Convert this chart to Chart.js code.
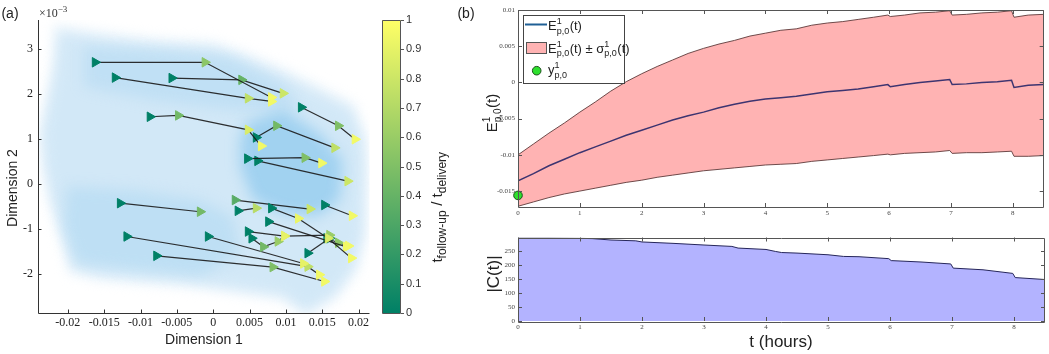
<!DOCTYPE html>
<html><head><meta charset="utf-8">
<script src="https://cdn.jsdelivr.net/npm/chart.js@4.4.1/dist/chart.umd.min.js"></script>
<style>
html,body{margin:0;padding:0;background:#fff;}
#wrap{position:relative;width:1049px;height:354px;overflow:hidden;background:#fff;}
canvas{position:absolute;}
</style></head><body>
<div id="wrap">
<canvas id="cA" width="376" height="354" style="left:0;top:0;width:376px;height:354px"></canvas>
<canvas id="cB" width="74" height="354" style="left:376px;top:0;width:74px;height:354px"></canvas>
<canvas id="cC" width="599" height="222" style="left:450px;top:0;width:599px;height:222px"></canvas>
<canvas id="cD" width="599" height="132" style="left:450px;top:222px;width:599px;height:132px"></canvas>
</div>
<script>
// ================= DATA =================
// Panel (a): trajectories (x in Dimension 1, y in units of 1e-3), colour = t_follow-up / t_delivery
const trajX = [
 [-0.01625,-0.00114,0.0080],
 [-0.0135,0.0048,0.0080],
 [-0.0057,0.0039,0.0096],
 [-0.0087,-0.0048,0.0048,0.0066],
 [0.0059,0.0087,0.0167],
 [0.0121,0.0172,0.0195],
 [0.0047,0.0126,0.0149],
 [0.0061,0.0185],
 [-0.0128,-0.0018],
 [0.0034,0.0059],
 [0.0080,0.0117,0.0158,0.0190],
 [0.0030,0.0133],
 [0.0153,0.0191],
 [0.0076,0.0183],
 [0.0048,0.0098,0.0160],
 [0.0053,0.0069,0.0089,0.0098],
 [0.0130,0.0160],
 [0.0156,0.0172,0.0186],
 [-0.0007,0.0124],
 [-0.0119,0.0130,0.0146],
 [-0.0078,0.0082,0.0153]
];
const trajY = [
 [2.71,2.71,1.93],
 [2.37,1.91,1.84],
 [2.36,2.32,2.02],
 [1.50,1.53,1.21,0.85],
 [1.04,1.30,0.81],
 [1.71,1.30,1.00],
 [0.57,0.59,0.47],
 [0.52,0.07],
 [-0.42,-0.61],
 [-0.59,-0.53],
 [-0.53,-0.76,-1.20,-1.64],
 [-0.35,-0.55],
 [-0.46,-0.70],
 [-0.83,-1.39],
 [-1.05,-1.15,-1.13],
 [-1.20,-1.39,-1.27,-1.15],
 [-1.53,-1.20],
 [-1.20,-1.30,-1.37],
 [-1.16,-1.76],
 [-1.16,-1.83,-2.01],
 [-1.59,-1.84,-2.16]
];
const trajFrac = [
 [0,0.55,0.95],
 [0,0.75,0.95],
 [0,0.4,0.8],
 [0,0.45,0.85,0.95],
 [0,0.45,0.75],
 [0,0.5,0.95],
 [0,0.5,0.95],
 [0,0.8],
 [0,0.45],
 [0,0.72],
 [0,0.92,0.85,0.95],
 [0.35,0.8],
 [0,0.95],
 [0,0.95],
 [0,0.9,0.6],
 [0,0.45,0.6,0.85],
 [0,0.1],
 [0,0.55,0.95],
 [0,0.9],
 [0,0.75,0.95],
 [0,0.5,0.95]
];
// background point cloud, outlined as regions of density
const cloudOuterX = [-0.0219,-0.0158,-0.0083,0,0.0053,0.0100,0.0148,0.0195,0.0211,0.0213,0.0211,0.0199,0.0170,0.0128,0.0094,0.0027,-0.0041,-0.0110,-0.0158,-0.0198,-0.0213,-0.0227,-0.0236,-0.0240,-0.0231,-0.0222];
const cloudOuterY = [3.55,3.40,3.25,3.18,2.88,2.55,2.17,1.78,1.05,0.39,-1.09,-1.92,-2.55,-2.95,-2.58,-2.42,-2.28,-2.20,-2.13,-1.98,-1.09,-0.35,0.39,1.13,1.87,2.70];
const cloudX = [-0.0211,-0.0156,-0.0082,0,0.0050,0.0096,0.0142,0.0188,0.0204,0.0206,0.0204,0.0192,0.0165,0.0128,0.0096,0.0027,-0.0041,-0.0110,-0.0156,-0.0192,-0.0206,-0.0220,-0.0229,-0.0233,-0.0224,-0.0215];
const cloudY = [3.36,3.21,3.06,2.99,2.69,2.39,2.02,1.65,0.99,0.39,-1.09,-1.83,-2.42,-2.79,-2.42,-2.27,-2.13,-2.05,-1.98,-1.83,-1.09,-0.35,0.39,1.13,1.87,2.61];
const cloudTopX = [-0.0178,-0.0064,0.0027,0.0096,0.0119,0.0027,-0.0087,-0.0178];
const cloudTopY = [3.06,2.99,2.84,2.24,1.65,1.65,1.87,2.17];
const cloudLowX = [-0.0201,-0.0110,-0.0018,0.0027,0.0037,-0.0018,-0.0110,-0.0188,-0.0206];
const cloudLowY = [-0.05,-0.13,-0.35,-0.72,-1.53,-2.05,-1.90,-1.76,-0.94];
const cloudDenseX = [0.0046,0.0096,0.0146,0.0178,0.0174,0.0142,0.0096,0.0055,0.0037,0.0037];
const cloudDenseY = [1.36,1.65,1.13,0.54,-0.35,-0.72,-0.64,-0.35,0.39,0.99];
const scatterXTicks = [-0.02,-0.015,-0.01,-0.005,0,0.005,0.01,0.015,0.02];
const scatterYTicks = [-2,-1,0,1,2,3];
const colorbarTicks = [0,0.1,0.2,0.3,0.4,0.5,0.6,0.7,0.8,0.9,1];

// Panel (b) top: expected value and +- sigma band
const tHours = [0,0.25,0.5,0.75,1,1.25,1.5,1.75,2,2.25,2.5,2.75,3,3.25,3.5,3.75,4,4.25,4.5,4.75,5,5.25,5.5,5.75,5.98,6.02,6.25,6.5,6.75,6.98,7.02,7.25,7.5,7.75,7.98,8.02,8.25,8.5];
const meanE = [-0.0136,-0.0126,-0.0115,-0.0106,-0.0097,-0.0089,-0.0081,-0.0073,-0.0066,-0.0059,-0.0052,-0.0046,-0.0041,-0.0035,-0.0030,-0.0026,-0.0023,-0.0021,-0.0019,-0.0016,-0.0013,-0.0011,-0.0009,-0.0006,-0.0003,-0.0006,-0.0003,0.0000,0.0002,0.0004,-0.0003,-0.0002,0.0000,0.0001,0.0003,-0.0007,-0.0004,-0.0003];
const upperE = [-0.0100,-0.0085,-0.0070,-0.0056,-0.0041,-0.0027,-0.0012,0.0001,0.0012,0.0022,0.0031,0.0040,0.0047,0.0053,0.0058,0.0064,0.0068,0.0072,0.0074,0.0079,0.0082,0.0084,0.0087,0.0090,0.0093,0.0091,0.0093,0.0096,0.0097,0.0099,0.0093,0.0094,0.0096,0.0097,0.0099,0.0090,0.0093,0.0094];
const lowerE = [-0.0171,-0.0165,-0.0159,-0.0154,-0.0150,-0.0146,-0.0142,-0.0138,-0.0135,-0.0131,-0.0128,-0.0125,-0.0122,-0.0120,-0.0118,-0.0116,-0.0114,-0.0113,-0.0112,-0.0109,-0.0107,-0.0105,-0.0103,-0.0101,-0.0099,-0.0100,-0.0098,-0.0097,-0.0096,-0.0094,-0.0098,-0.0097,-0.0097,-0.0096,-0.0095,-0.0102,-0.0102,-0.0101];
const obsTime = [0];
const obsValue = [-0.0156];
const eTicks = [-0.015,-0.01,-0.005,0,0.005,0.01];
const hourTicks = [0,1,2,3,4,5,6,7,8];

// Panel (b) bottom: |C(t)|
const cTime = [0,0.5,1,1.2,1.5,1.9,2,2.5,3,3.45,3.55,4,4.15,4.25,4.5,5,5.25,5.5,5.98,6.02,6.5,6.98,7.02,7.5,7.98,8.02,8.5];
const cCount = [298,298,297,296,291,288,284,279,273,268,262,257,250,246,244,238,232,231,224,217,212,205,190,184,171,156,149];
const cTicks = [0,50,100,150,200,250];

// ================= HELPERS =================
const SANS = "'Liberation Sans', Arial, sans-serif";
const SERIF = "'Liberation Serif', 'Times New Roman', serif";
const summer = f => `rgb(${Math.round(255*f)},${Math.round(127.5+127.5*f)},102)`;
const fmt = v => { const r = Math.round(v*1e6)/1e6; return r === 0 ? '0' : String(r); };
const fixTicks = arr => s => { s.ticks = arr.map(v => ({value: v})); };

function measureParts(ctx, parts, fam, base, small){
  let w = 0;
  for (const p of parts){
    if (p.t !== undefined){ ctx.font = `${base}px ${fam}`; w += ctx.measureText(p.t).width; }
    else { ctx.font = `${small}px ${fam}`;
      w += Math.max(p.sup ? ctx.measureText(p.sup).width : 0, p.sub ? ctx.measureText(p.sub).width : 0) + 0.5; }
  }
  return w;
}
function drawParts(ctx, x, y, parts, fam, base, small, center, color){
  const w = measureParts(ctx, parts, fam, base, small);
  let cx = center ? x - w/2 : x;
  ctx.fillStyle = color || '#222'; ctx.textAlign = 'left'; ctx.textBaseline = 'alphabetic';
  for (const p of parts){
    if (p.t !== undefined){ ctx.font = `${base}px ${fam}`; ctx.fillText(p.t, cx, y); cx += ctx.measureText(p.t).width; }
    else {
      ctx.font = `${small}px ${fam}`; let ww = 0;
      if (p.sup){ ctx.fillText(p.sup, cx, y - base*0.45); ww = Math.max(ww, ctx.measureText(p.sup).width); }
      if (p.sub){ ctx.fillText(p.sub, cx, y + base*0.28); ww = Math.max(ww, ctx.measureText(p.sub).width); }
      cx += ww + 0.5;
    }
  }
}
function drawPartsRot(ctx, bx, cy, parts, fam, base, small, color){
  ctx.save(); ctx.translate(bx, cy); ctx.rotate(-Math.PI/2);
  drawParts(ctx, 0, 0, parts, fam, base, small, true, color); ctx.restore();
}
function text(ctx, s, x, y, font, color, align, rot){
  ctx.save(); ctx.translate(x, y); if (rot) ctx.rotate(rot);
  ctx.font = font; ctx.fillStyle = color; ctx.textAlign = align || 'center'; ctx.textBaseline = 'middle';
  ctx.fillText(s, 0, 0); ctx.restore();
}
function boxAndTicks(chart, sides, len, color, box){
  const {ctx, chartArea: a, scales} = chart;
  ctx.save(); ctx.strokeStyle = color; ctx.lineWidth = 1;
  ctx.beginPath();
  if (box){ ctx.rect(Math.round(a.left)+0.5, Math.round(a.top)+0.5, Math.round(a.right-a.left)-1, Math.round(a.bottom-a.top)); }
  else {
    ctx.moveTo(Math.round(a.left)+0.5, a.top); ctx.lineTo(Math.round(a.left)+0.5, Math.round(a.bottom)+0.5);
    ctx.lineTo(a.right, Math.round(a.bottom)+0.5);
  }
  for (const t of scales.x.ticks){
    const px = Math.round(scales.x.getPixelForValue(t.value)) + 0.5;
    if (sides.includes('bottom')){ ctx.moveTo(px, a.bottom); ctx.lineTo(px, a.bottom - len); }
    if (sides.includes('top')){ ctx.moveTo(px, a.top); ctx.lineTo(px, a.top + len); }
  }
  for (const t of scales.y.ticks){
    const py = Math.round(scales.y.getPixelForValue(t.value)) + 0.5;
    if (sides.includes('left')){ ctx.moveTo(a.left, py); ctx.lineTo(a.left + len, py); }
    if (sides.includes('right')){ ctx.moveTo(a.right, py); ctx.lineTo(a.right - len, py); }
  }
  ctx.stroke(); ctx.restore();
}
const baseOpts = {responsive:false, animation:false, events:[], plugins:{legend:{display:false}, tooltip:{enabled:false}}};

// ================= PANEL (a) SCATTER =================
const cloudPolys = [
  [cloudOuterX, cloudOuterY, 'rgb(232,243,251)', 6],
  [cloudX, cloudY, 'rgb(210,232,247)', 6],
  [cloudTopX, cloudTopY, 'rgba(160,210,240,0.35)', 7],
  [cloudLowX, cloudLowY, 'rgba(160,210,240,0.40)', 7],
  [cloudDenseX, cloudDenseY, 'rgba(120,192,235,0.55)', 7]
];
const cloudPlugin = {
  id: 'cloud',
  beforeDatasetsDraw(chart){
    const {ctx, chartArea: a, scales: {x, y}} = chart;
    ctx.save(); ctx.beginPath(); ctx.rect(a.left, a.top, a.right-a.left, a.bottom-a.top); ctx.clip();
    for (const [xs, ys, col, blur] of cloudPolys){
      ctx.filter = `blur(${blur}px)`;
      ctx.beginPath();
      xs.forEach((v, i) => { const px = x.getPixelForValue(v), py = y.getPixelForValue(ys[i]); i ? ctx.lineTo(px, py) : ctx.moveTo(px, py); });
      ctx.closePath(); ctx.fillStyle = col; ctx.fill();
    }
    ctx.filter = 'none';
    ctx.restore();
  }
};
const decoA = {
  id: 'decoA',
  afterDraw(chart){
    const ctx = chart.ctx;
    boxAndTicks(chart, ['left','bottom'], 3.5, '#333', false);
    text(ctx, '(a)', 10, 14, `14px ${SANS}`, '#222');
    drawParts(ctx, 39, 17, [{t:'×10'},{sup:'−3'}], SERIF, 12, 9, false, '#333');
    text(ctx, 'Dimension 1', 204, 340, `14px ${SANS}`, '#222');
    text(ctx, 'Dimension 2', 13.5, 188, `14px ${SANS}`, '#222', 'center', -Math.PI/2);
  }
};
new Chart(document.getElementById('cA'), {
  type: 'scatter',
  data: { datasets: trajX.map((xs, i) => ({
    data: xs.map((v, j) => ({x: v, y: trajY[i][j]})),
    showLine: true, borderColor: 'rgba(25,25,25,0.9)', borderWidth: 1.2, tension: 0,
    pointStyle: 'triangle', pointRotation: 90, pointRadius: 5.5, pointHoverRadius: 5.5,
    pointBackgroundColor: trajFrac[i].map(summer), pointBorderColor: trajFrac[i].map(summer), pointBorderWidth: 1
  }))},
  options: Object.assign({}, baseOpts, {
    layout: {padding: {top: 20, right: 6, left: 0, bottom: 0}},
    scales: {
      x: {type:'linear', min:-0.0241, max:0.0215, afterBuildTicks: fixTicks(scatterXTicks), afterFit: s => { s.height = 41; },
          grid:{display:false, drawTicks:false}, border:{display:false},
          ticks:{font:{family:SERIF, size:12}, color:'#222', padding:3, maxRotation:0, autoSkip:false, callback: fmt}},
      y: {type:'linear', min:-2.86, max:3.65, afterBuildTicks: fixTicks(scatterYTicks), afterFit: s => { s.width = 38; },
          grid:{display:false, drawTicks:false}, border:{display:false},
          ticks:{font:{family:SERIF, size:12}, color:'#222', padding:5, autoSkip:false, callback: fmt}}
    }
  }),
  plugins: [cloudPlugin, decoA]
});

// ================= COLORBAR =================
const decoB = {
  id: 'decoB',
  afterDraw(chart){
    const {ctx, chartArea: a, scales: {y}} = chart;
    ctx.save(); ctx.strokeStyle = '#555'; ctx.lineWidth = 1; ctx.beginPath();
    ctx.rect(Math.round(a.left)+0.5, Math.round(a.top)+0.5, Math.round(a.right-a.left)-1, Math.round(a.bottom-a.top));
    for (const t of y.ticks){ const py = Math.round(y.getPixelForValue(t.value))+0.5; ctx.moveTo(a.right, py); ctx.lineTo(a.right+3, py); }
    ctx.stroke(); ctx.restore();
    drawPartsRot(ctx, 66, 207, [{t:'t'},{sub:'follow-up'},{t:' / t'},{sub:'delivery'}], SANS, 15, 12, '#222');
  }
};
new Chart(document.getElementById('cB'), {
  type: 'bar',
  data: { labels: ['cb'], datasets: [{
    data: [[0, 1]], barPercentage: 1, categoryPercentage: 1, borderWidth: 0,
    backgroundColor: c => { const a = c.chart.chartArea; if (!a) return summer(0.5);
      const g = c.chart.ctx.createLinearGradient(0, a.bottom, 0, a.top); g.addColorStop(0, summer(0)); g.addColorStop(1, summer(1)); return g; }
  }]},
  options: Object.assign({}, baseOpts, {
    layout: {padding: {top: 20, left: 6, right: 0, bottom: 41}},
    scales: {
      x: {display:false},
      y: {position:'right', min:0, max:1, afterBuildTicks: fixTicks(colorbarTicks), afterFit: s => { s.width = 49; },
          grid:{display:false, drawTicks:false}, border:{display:false},
          ticks:{font:{family:SANS, size:11}, color:'#333', padding:5, autoSkip:false, callback: fmt}}
    }
  }),
  plugins: [decoB]
});

// ================= PANEL (b) TOP =================
const xy = (xs, ys) => xs.map((v, i) => ({x: v, y: ys[i]}));
const eLabel = [{t:'E'},{sup:'1', sub:'p,0'},{t:'(t)'}];
const decoC = {
  id: 'decoC',
  afterDraw(chart){
    const ctx = chart.ctx;
    boxAndTicks(chart, ['left','right','top','bottom'], 4, '#555', true);
    text(ctx, '(b)', 16, 14, `14px ${SANS}`, '#222');
    drawPartsRot(ctx, 47, 113, eLabel, SANS, 15, 10, '#222');
    // legend
    ctx.save();
    ctx.fillStyle = '#fff'; ctx.fillRect(73.5, 15.5, 101, 68);
    ctx.strokeStyle = '#444'; ctx.lineWidth = 1; ctx.strokeRect(73.5, 15.5, 101, 68);
    ctx.strokeStyle = '#1f5f95'; ctx.lineWidth = 2; ctx.beginPath(); ctx.moveTo(75, 24.5); ctx.lineTo(97, 24.5); ctx.stroke();
    ctx.fillStyle = '#ffb3b3'; ctx.fillRect(76.5, 42.5, 20, 11);
    ctx.strokeStyle = '#555'; ctx.lineWidth = 1; ctx.strokeRect(76.5, 42.5, 20, 11);
    ctx.beginPath(); ctx.arc(86.7, 70.7, 4.3, 0, Math.PI*2); ctx.fillStyle = '#2ee02e'; ctx.fill(); ctx.strokeStyle = '#1c4f1c'; ctx.stroke();
    ctx.restore();
    drawParts(ctx, 98, 30, eLabel, SANS, 13, 9, false, '#222');
    drawParts(ctx, 98, 52.5, [{t:'E'},{sup:'1', sub:'p,0'},{t:'(t) ± σ'},{sup:'1', sub:'p,0'},{t:'(t)'}], SANS, 13, 9, false, '#222');
    drawParts(ctx, 98, 74, [{t:'y'},{sup:'1', sub:'p,0'}], SANS, 13, 9, false, '#222');
  }
};
new Chart(document.getElementById('cC'), {
  type: 'line',
  data: { datasets: [
    {data: xy(obsTime, obsValue), showLine:false, pointRadius:4.3, pointBackgroundColor:'#2ee02e', pointBorderColor:'#1c4f1c', pointBorderWidth:1, clip:false},
    {data: xy(tHours, meanE), borderColor:'#3d3470', borderWidth:1.5, pointRadius:0, fill:false, tension:0},
    {data: xy(tHours, upperE), borderColor:'#5e3a3a', borderWidth:0.9, pointRadius:0, fill:'+1', backgroundColor:'#ffb3b3', tension:0},
    {data: xy(tHours, lowerE), borderColor:'#5e3a3a', borderWidth:0.9, pointRadius:0, fill:false, tension:0}
  ]},
  options: Object.assign({}, baseOpts, {
    plugins: {legend:{display:false}, tooltip:{enabled:false}, filler:{drawTime:'beforeDatasetsDraw'}},
    layout: {padding: {top: 10, right: 4, left: 0, bottom: 0}},
    scales: {
      x: {type:'linear', min:0, max:8.5, afterBuildTicks: fixTicks(hourTicks), afterFit: s => { s.height = 15; },
          grid:{display:false, drawTicks:false}, border:{display:false},
          ticks:{font:{family:SERIF, size:7}, color:'#444', padding:2, maxRotation:0, autoSkip:false, callback: fmt}},
      y: {type:'linear', min:-0.0172, max:0.01, afterBuildTicks: fixTicks(eTicks), afterFit: s => { s.width = 68; },
          grid:{display:false, drawTicks:false}, border:{display:false},
          ticks:{font:{family:SERIF, size:7}, color:'#444', padding:3, autoSkip:false, callback: fmt}}
    }
  }),
  plugins: [decoC]
});

// ================= PANEL (b) BOTTOM =================
const decoD = {
  id: 'decoD',
  afterDraw(chart){
    const ctx = chart.ctx;
    boxAndTicks(chart, ['left','right','top','bottom'], 4, '#555', true);
    text(ctx, '|C(t)|', 44, 52, `17px ${SANS}`, '#222', 'center', -Math.PI/2);
    text(ctx, 't (hours)', 331, 120, `17px ${SANS}`, '#222');
  }
};
new Chart(document.getElementById('cD'), {
  type: 'line',
  data: { datasets: [
    {data: xy(cTime, cCount), borderColor:'#26265a', borderWidth:1, pointRadius:0, fill:'origin', backgroundColor:'#b3b3ff', tension:0}
  ]},
  options: Object.assign({}, baseOpts, {
    layout: {padding: {top: 15.5, right: 4, left: 0, bottom: 0}},
    scales: {
      x: {type:'linear', min:0, max:8.5, afterBuildTicks: fixTicks(hourTicks), afterFit: s => { s.height = 33; },
          grid:{display:false, drawTicks:false}, border:{display:false},
          ticks:{font:{family:SERIF, size:7}, color:'#444', padding:1.5, maxRotation:0, autoSkip:false, callback: fmt}},
      y: {type:'linear', min:0, max:300, afterBuildTicks: fixTicks(cTicks), afterFit: s => { s.width = 68; },
          grid:{display:false, drawTicks:false}, border:{display:false},
          ticks:{font:{family:SERIF, size:7}, color:'#444', padding:3, autoSkip:false, callback: fmt}}
    }
  }),
  plugins: [decoD]
});
</script>
</body></html>
